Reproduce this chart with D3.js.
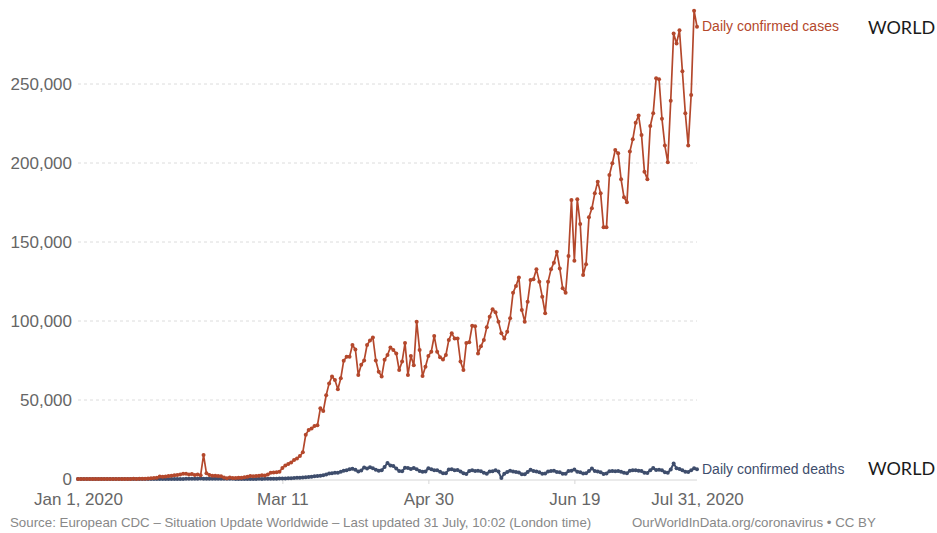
<!DOCTYPE html>
<html>
<head>
<meta charset="utf-8">
<script src="https://cdn.jsdelivr.net/npm/d3@7"></script>
<style>
  html, body { margin: 0; padding: 0; background: #fff; }
  svg { display: block; }
</style>
</head>
<body>
<svg id="chart" width="937" height="533"></svg>
<script>
// ---------- DATA (daily values, Jan 1 2020 .. Jul 31 2020) ----------
const startDate = "2020-01-01";
const endDate = "2020-07-31";

const dailyCases = [
  0,0,0,0,0,0,0,0,0,0,0,0,0,0,0,0,0,0,
  17,136,20,151,140,97,259,441,665,787,1600,1400,1650,1850,2000,2400,2600,2900,3400,3300,2900,3100,2500,2800,2400,
  15141,3600,2600,2100,2050,1890,1750,900,550,1000,700,560,830,850,1050,1400,1850,1800,1900,2050,2450,2250,2800,
  4000,4100,4300,4600,
  7000,8500,9500,10500,12000,13000,14500,17000,28000,31000,32000,33500,34000,44700,43000,53000,60500,64800,62700,56800,
  63700,74900,77400,77400,84800,82000,65800,72300,75000,84800,87600,89600,75000,67900,64800,75400,78500,83300,81600,79500,
  69000,74300,86000,65800,77800,72000,99600,81600,65200,71000,77800,80600,90500,80600,77000,75700,78500,88000,92200,89000,
  89000,74300,69000,86000,86500,97000,96600,79500,84000,88000,96000,102700,107400,105500,99600,92200,89000,93200,101700,117900,
  122200,127600,107000,99600,112200,126000,126400,132700,124900,115400,104900,124900,132700,136900,143900,133300,120700,117900,141100,176600,
  138200,177000,161400,129100,135900,165600,171300,180800,188200,180800,159300,159300,192400,199800,208200,206100,189700,178300,175100,207200,
  215000,225500,230000,217700,194500,189700,223400,231500,253600,253000,228000,211000,200400,239400,282000,275700,284000,258000,231500,211000,
  243000,296400,286300
];

const dailyDeaths = [
  0,0,0,0,0,0,0,0,0,0,0,0,0,0,0,0,0,0,0,0,0,0,
  8,16,15,24,26,26,38,43,46,45,
  57,64,66,73,73,86,89,97,108,97,254,121,143,142,106,98,139,115,118,109,97,150,71,52,29,44,37,58,
  67,72,84,72,107,102,97,225,213,276,
  300,350,430,460,600,720,800,950,1100,1300,1500,1700,1900,2100,2400,2800,3500,3600,3900,4000,
  4600,5300,5600,6200,6500,5800,4800,5400,7300,6600,7400,6800,5800,5300,5500,7600,10200,8600,8200,6600,
  5000,4900,7100,6900,6400,6900,6200,5000,4600,4700,6800,6200,5500,5600,4600,3600,3700,6000,6200,5600,
  5700,4800,3700,3200,5100,5500,5000,5200,4900,3900,3400,4800,4900,5500,4700,600,3400,4400,5300,4800,
  4500,4100,3000,3000,4500,5800,5000,4800,4200,3400,3500,4700,5100,5300,4400,4300,3300,3400,5000,5200,
  6000,4600,4300,3500,3600,5000,6600,5000,4800,4300,3200,3500,4900,5000,4900,5000,4600,3900,3600,5200,
  5600,5500,5300,5000,4000,3800,5600,6900,5700,5800,5500,4300,4000,6000,9800,6800,6300,5600,4600,4400,
  5500,6800,6200
];

const yTicks = [0, 50000, 100000, 150000, 200000, 250000];
const xTickDates = ["2020-01-01", "2020-03-11", "2020-04-30", "2020-06-19", "2020-07-31"];
const xTickLabels = ["Jan 1, 2020", "Mar 11", "Apr 30", "Jun 19", "Jul 31, 2020"];

const seriesNames = ["Daily confirmed cases", "Daily confirmed deaths"];
const regionLabel = "WORLD";
const sourceText = "Source: European CDC \u2013 Situation Update Worldwide \u2013 Last updated 31 July, 10:02 (London time)";
const creditText = "OurWorldInData.org/coronavirus \u2022 CC BY";

// ---------- DRAW ----------
const parse = d3.utcParse("%Y-%m-%d");
const t0 = parse(startDate);
const dayMs = 86400000;
const dateOf = i => new Date(t0.getTime() + i * dayMs);

const casesColor = "#b4482c";
const deathsColor = "#3e4d6c";

const svg = d3.select("#chart");
const x = d3.scaleUtc().domain([t0, parse(endDate)]).range([78, 697]);
const y = d3.scaleLinear().domain([0, 250000]).range([479, 84]);

// grid lines
svg.append("g").selectAll("line")
  .data(yTicks.filter(v => v > 0))
  .join("line")
  .attr("x1", 78).attr("x2", 697)
  .attr("y1", d => y(d)).attr("y2", d => y(d))
  .attr("stroke", "#dcdcdc").attr("stroke-width", 1)
  .attr("stroke-dasharray", "3,3");

// y axis labels
const yAxis = d3.axisLeft(y).tickValues(yTicks).tickSize(0).tickPadding(6)
  .tickFormat(d3.format(","));
const gy = svg.append("g").attr("transform", "translate(72,0)").call(yAxis);
gy.select(".domain").remove();
gy.selectAll("text")
  .attr("x", 0)
  .attr("fill", "#666")
  .style("font-family", "'Liberation Sans', Arial, sans-serif")
  .style("font-size", "17px");

// x axis
const xAxis = d3.axisBottom(x)
  .tickValues(xTickDates.map(parse))
  .tickFormat((d, i) => xTickLabels[i])
  .tickSize(4).tickPadding(6);
const gx = svg.append("g").attr("transform", "translate(0,480)").call(xAxis);
gx.select(".domain").attr("stroke", "#d6d6d6").attr("d", "M78,0H697");
gx.selectAll(".tick line").attr("stroke", "#d6d6d6")
  .attr("opacity", (d, i) => (i === 0 || i === xTickDates.length - 1) ? 0 : 1);
gx.selectAll("text")
  .attr("fill", "#666")
  .attr("y", 13)
  .style("font-family", "'Liberation Sans', Arial, sans-serif")
  .style("font-size", "17px");

// lines
const line = d3.line().x((d, i) => x(dateOf(i))).y(d => y(d));

function drawSeries(values, color, width, r) {
  const g = svg.append("g");
  g.append("path")
    .datum(values)
    .attr("d", line)
    .attr("fill", "none")
    .attr("stroke", color)
    .attr("stroke-width", width)
    .attr("stroke-linejoin", "round");
  g.selectAll("circle")
    .data(values)
    .join("circle")
    .attr("cx", (d, i) => x(dateOf(i)))
    .attr("cy", d => y(d))
    .attr("r", r)
    .attr("fill", color);
}
drawSeries(dailyDeaths, deathsColor, 2, 2);
drawSeries(dailyCases, casesColor, 1.7, 2);

// series labels
svg.append("text")
  .attr("x", 702).attr("y", 31)
  .attr("fill", casesColor)
  .style("font-family", "'Liberation Sans', Arial, sans-serif")
  .style("font-size", "14px")
  .text(seriesNames[0]);
svg.append("text")
  .attr("x", 702).attr("y", 474)
  .attr("fill", deathsColor)
  .style("font-family", "'Liberation Sans', Arial, sans-serif")
  .style("font-size", "14px")
  .text(seriesNames[1]);

// region labels
[34, 475].forEach(yy => {
  svg.append("text")
    .attr("x", 868).attr("y", yy)
    .attr("fill", "#1a1a1a")
    .style("font-family", "Lato, 'Open Sans', sans-serif")
    .style("font-size", "18px")
    .text(regionLabel);
});

// footer
svg.append("text")
  .attr("x", 10).attr("y", 527)
  .attr("fill", "#888")
  .style("font-family", "'Liberation Sans', Arial, sans-serif")
  .style("font-size", "13.3px")
  .text(sourceText);
svg.append("text")
  .attr("x", 632).attr("y", 527)
  .attr("fill", "#888")
  .style("font-family", "'Liberation Sans', Arial, sans-serif")
  .style("font-size", "13.3px")
  .text(creditText);
</script>
</body>
</html>
